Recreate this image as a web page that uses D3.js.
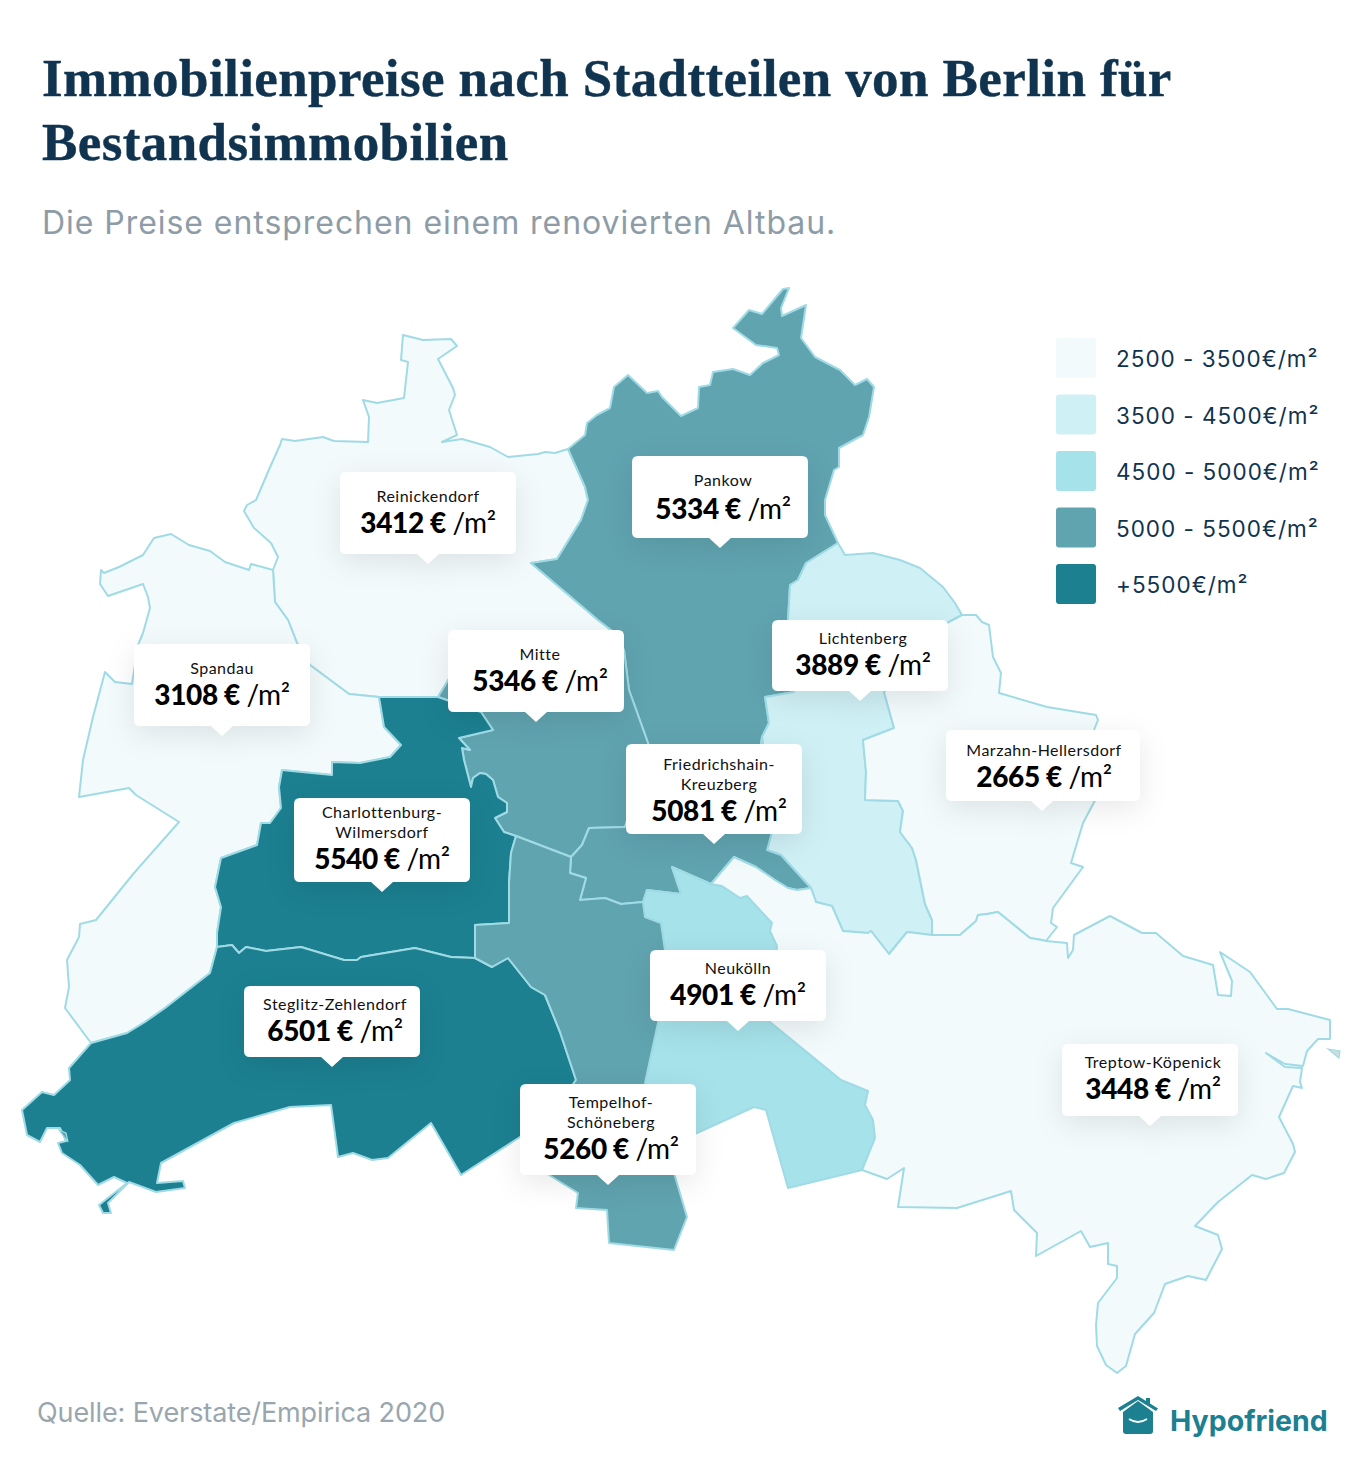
<!DOCTYPE html>
<html>
<head>
<meta charset="utf-8">
<script src="https://cdn.jsdelivr.net/npm/d3@7"></script>
<style>
  html, body { margin: 0; padding: 0; background: #fff; }
  svg { display: block; }
  .title { font-family: "Liberation Serif", serif; font-weight: 700; font-size: 53px; fill: #10344f; letter-spacing: .4px; stroke: #10344f; stroke-width: .4px; }
  .sub { font-family: Inter, sans-serif; font-size: 32px; fill: #8d9ca6; letter-spacing: .95px; }
  .source { font-family: Inter, sans-serif; font-size: 27px; fill: #9aa6ae; letter-spacing: -.1px; }
  .legend-text { font-family: Inter, sans-serif; font-size: 22.5px; fill: #10344f; letter-spacing: 1px; }
  .name { font-family: Lato, sans-serif; font-size: 16px; fill: #111; letter-spacing: .5px; text-anchor: middle; }
  .value { font-family: Lato, sans-serif; font-size: 28px; fill: #000; text-anchor: middle; letter-spacing: -.4px; }
  .value .num { font-weight: 900; }
  .value .unit { font-weight: 400; }
  .brand { font-family: Inter, sans-serif; font-weight: 700; font-size: 28.5px; fill: #1c8091; }
</style>
</head>
<body>
<div id="chart"></div>
<script>
// price classes
var classBreaks = [3500, 4500, 5000, 5500],
    classColors = ["#f2fafc", "#cff0f5", "#a6e2ea", "#60a4b0", "#1c8091"],
    legendLabels = ["2500 - 3500€/m²", "3500 - 4500€/m²", "4500 - 5000€/m²", "5000 - 5500€/m²", "+5500€/m²"];

var districts = ["Reinickendorf", "Pankow", "Mitte", "Spandau", "Lichtenberg", "Marzahn-Hellersdorf", "Friedrichshain-Kreuzberg", "Charlottenburg-Wilmersdorf", "Steglitz-Zehlendorf", "Neukölln", "Tempelhof-Schöneberg", "Treptow-Köpenick"];
var prices = [3412, 5334, 5346, 3108, 3889, 2665, 5081, 5540, 6501, 4901, 5260, 3448];

// shared borders in map units
var reinickNorth = [[568,449],[555,453],[545,452],[538,454],[508,457],[490,447],[462,439],[442,442],[457,435],[449,410],[455,395],[453,388],[438,359],[457,346],[451,339],[423,340],[403,335],[401,360],[408,362],[404,398],[377,403],[363,400],[369,417],[368,442],[334,441],[323,437],[295,441],[282,439],[280,445],[271,465],[256,500],[247,505],[244,511],[254,528],[271,543],[278,557],[273,570]];
var reinickSpandau = [[273,570],[275,602],[288,620],[297,643],[310,665],[349,694],[379,697]];
var reinickChar = [[379,697],[438,697]];
var reinickMitte = [[438,697],[447,682],[460,660],[560,650],[611,630]];
var reinickPankow = [[611,630],[598,620],[531,563],[557,559],[581,520],[588,500],[585,487],[568,449]];

var pankowNorth = [[568,449],[585,435],[587,423],[597,415],[610,408],[614,387],[628,375],[647,393],[658,391],[662,397],[681,416],[698,408],[699,387],[710,385],[713,372],[733,369],[750,375],[763,363],[779,355],[777,348],[756,345],[733,328],[749,310],[762,314],[783,289],[789,288],[781,308],[782,316],[806,305],[801,338],[815,357],[840,370],[855,385],[867,379],[874,387],[869,417],[863,435],[839,448],[839,467],[834,470],[825,500],[825,515],[838,543]];
var pankowLicht = [[838,543],[806,563],[798,580],[790,585],[788,620],[792,660],[794,692],[765,697],[769,723],[762,737]];
var pankowFK = [[762,737],[760,750],[650,750]];
var pankowMitte = [[650,750],[648,743],[629,690],[624,650],[611,630]];

var mitteFK = [[650,750],[625,827],[589,828],[582,845],[571,857]];
var mitteTemp = [[571,857],[516,836]];
var mitteChar = [[516,836],[504,832],[495,818],[507,812],[507,803],[498,797],[493,780],[486,774],[480,773],[473,778],[471,787],[464,760],[462,748],[470,750],[459,738],[493,730],[481,712],[438,697]];

var spandauOuter = [[273,570],[251,564],[249,570],[225,562],[210,551],[189,545],[171,534],[154,538],[143,555],[119,567],[104,573],[101,570],[100,584],[108,596],[143,584],[148,597],[150,608],[143,633],[138,645],[132,684],[115,682],[105,672],[93,717],[83,760],[79,797],[129,788],[136,795],[179,822],[134,873],[96,920],[80,924],[79,937],[67,960],[69,987],[65,1008],[91,1043]];
var spandauSteglitz = [[91,1043],[127,1033],[145,1022],[165,1008],[210,973],[217,947]];
var spandauChar = [[217,947],[217,933],[221,907],[215,887],[221,858],[257,845],[261,823],[270,823],[281,808],[279,787],[282,770],[332,775],[332,762],[360,763],[390,757],[401,745],[384,727],[379,697]];

var charSteglitz = [[217,947],[232,945],[239,953],[246,947],[266,951],[301,947],[344,960],[357,960],[361,957],[415,948],[451,957],[475,958]];
var charTemp = [[475,958],[475,925],[509,923],[509,883],[511,853],[516,836]];

var steglitzTemp = [[475,958],[492,967],[508,958],[531,987],[545,995],[560,1032],[576,1080],[545,1125]];
var steglitzOuter = [[545,1125],[520,1137],[461,1175],[431,1123],[388,1158],[372,1160],[353,1153],[338,1157],[331,1105],[290,1107],[234,1123],[161,1163],[157,1183],[183,1181],[185,1188],[156,1192],[129,1182],[108,1203],[111,1213],[103,1213],[99,1205],[127,1183],[114,1177],[98,1185],[80,1165],[62,1153],[58,1143],[66,1141],[60,1128],[47,1128],[40,1142],[27,1135],[22,1110],[42,1092],[54,1095],[70,1080],[69,1068],[91,1043]];

var fkTemp = [[571,857],[570,873],[586,878],[580,900],[605,898],[621,904],[643,902]];
var fkNeukoelln = [[643,902],[647,890],[681,894],[672,867],[711,884]];
var fkTreptow = [[711,884],[734,857],[756,867],[775,880],[788,888],[797,890],[811,888]];
var fkLicht = [[811,888],[781,855],[767,850],[772,832],[762,737]];

var tempNeukoelln = [[643,902],[645,917],[661,923],[665,950],[658,1023],[645,1083],[672,1142]];
var tempOuter = [[672,1142],[674,1173],[687,1217],[674,1250],[609,1243],[607,1210],[576,1208],[578,1193],[549,1175],[545,1125]];

var neukoellnTreptow = [[711,884],[722,886],[740,898],[747,896],[772,923],[770,931],[777,946],[770,1022],[841,1080],[868,1091],[865,1105],[873,1120],[875,1138],[862,1170]];
var neukoellnOuter = [[862,1170],[788,1188],[766,1110],[754,1107],[697,1133],[672,1142]];

var lichtTreptow = [[811,888],[816,902],[832,906],[843,931],[868,933],[871,931],[889,954],[907,932],[932,935]];
var lichtMarzahn = [[932,935],[932,920],[925,904],[916,860],[912,848],[900,832],[903,811],[898,801],[865,800],[866,772],[863,740],[894,728],[884,692],[947,623],[962,615]];
var lichtNorth = [[962,615],[955,603],[943,587],[920,568],[900,560],[873,553],[845,555],[838,543]];

var marzahnOuter = [[962,615],[976,615],[982,622],[989,625],[993,657],[1001,673],[999,693],[1047,707],[1096,715],[1098,720],[1094,730],[1099,793],[1083,823],[1071,863],[1083,867],[1053,908],[1051,923],[1057,927],[1046,941]];
var marzahnTreptow = [[1046,941],[1042,940],[1030,938],[998,912],[987,914],[978,915],[976,921],[960,935],[932,935]];

var treptowOuter = [[1046,941],[1067,943],[1068,958],[1073,950],[1074,935],[1110,916],[1142,933],[1156,933],[1183,956],[1213,965],[1218,995],[1231,996],[1232,981],[1220,952],[1250,972],[1277,1009],[1288,1009],[1330,1020],[1330,1039],[1318,1039],[1307,1051],[1303,1066],[1285,1064],[1266,1053],[1285,1067],[1302,1068],[1300,1082],[1302,1088],[1293,1086],[1279,1117],[1293,1144],[1295,1152],[1284,1173],[1266,1179],[1252,1175],[1218,1202],[1195,1226],[1218,1235],[1222,1249],[1206,1280],[1188,1276],[1165,1284],[1154,1313],[1135,1334],[1126,1366],[1117,1373],[1106,1365],[1097,1346],[1096,1325],[1098,1303],[1117,1278],[1117,1266],[1108,1264],[1108,1243],[1090,1247],[1081,1231],[1036,1256],[1037,1233],[1014,1210],[1011,1191],[957,1208],[898,1207],[904,1168],[887,1179],[862,1170]];

function rev(a) { return a.slice().reverse(); }
function ring() { return [].concat.apply([], arguments); }

var outlines = {
    "Reinickendorf": ring(reinickNorth, reinickSpandau, reinickChar, reinickMitte, reinickPankow),
    "Pankow": ring(pankowNorth, pankowLicht, pankowFK, pankowMitte, reinickPankow),
    "Mitte": ring(reinickMitte, rev(pankowMitte), mitteFK, mitteTemp, mitteChar),
    "Spandau": ring(spandauOuter, spandauSteglitz, spandauChar, rev(reinickSpandau)),
    "Lichtenberg": ring(rev(lichtNorth), rev(lichtMarzahn), rev(lichtTreptow), fkLicht, rev(pankowLicht)),
    "Marzahn-Hellersdorf": ring(marzahnOuter, marzahnTreptow, lichtMarzahn),
    "Friedrichshain-Kreuzberg": ring(mitteFK, fkTemp, fkNeukoelln, fkTreptow, fkLicht, pankowFK),
    "Charlottenburg-Wilmersdorf": ring(rev(spandauChar), charSteglitz, charTemp, mitteChar, rev(reinickChar)),
    "Steglitz-Zehlendorf": ring(rev(charSteglitz), rev(spandauSteglitz), rev(steglitzOuter), rev(steglitzTemp)),
    "Neukölln": ring(rev(fkNeukoelln), tempNeukoelln, rev(neukoellnOuter), rev(neukoellnTreptow)),
    "Tempelhof-Schöneberg": ring(rev(mitteTemp), fkTemp, tempNeukoelln, tempOuter, rev(steglitzTemp), charTemp),
    "Treptow-Köpenick": ring(rev(fkTreptow), neukoellnTreptow, rev(treptowOuter), marzahnTreptow, rev(lichtTreptow))
};

// little pieces that are not part of a district
var wannseePatch = [[59,1130],[66,1133],[68,1142],[60,1144]];
var exclavePatch = [[1328,1049],[1340,1051],[1339,1058],[1328,1056]];

// callout layout: [left, top, width, height, pointer x, text x, name baselines, value baseline]
var callouts = [
    [340, 472, 176, 82, 428, 428, [502], 533],
    [632, 456, 176, 82, 720, 723, [486], 519],
    [448, 630, 176, 82, 536, 540, [660], 691],
    [134, 644, 176, 82, 222, 222, [674], 705],
    [772, 620, 176, 71, 860, 863, [644], 675],
    [946, 730, 194, 71, 1042, 1044, [756], 787],
    [626, 744, 176, 90, 714, 719, [770, 790], 821],
    [294, 798, 176, 84, 382, 382, [818, 838], 869],
    [244, 986, 176, 71, 332, 335, [1010], 1041],
    [650, 950, 176, 71, 738, 738, [974], 1005],
    [520, 1084, 176, 91, 608, 611, [1108, 1128], 1159],
    [1062, 1044, 176, 72, 1150, 1153, [1068], 1099]
];
var nameLines = {
    "Friedrichshain-Kreuzberg": ["Friedrichshain-", "Kreuzberg"],
    "Charlottenburg-Wilmersdorf": ["Charlottenburg-", "Wilmersdorf"],
    "Tempelhof-Schöneberg": ["Tempelhof-", "Schöneberg"]
};

var width = 1356, height = 1464;

var svg = d3.select("#chart").append("svg")
    .attr("width", width)
    .attr("height", height);

svg.append("text").attr("class", "title").attr("x", 42).attr("y", 96).text("Immobilienpreise nach Stadtteilen von Berlin für");
svg.append("text").attr("class", "title").attr("x", 42).attr("y", 160).text("Bestandsimmobilien");
svg.append("text").attr("class", "sub").attr("x", 42).attr("y", 234).text("Die Preise entsprechen einem renovierten Altbau.");
svg.append("text").attr("class", "source").attr("x", 37).attr("y", 1422).text("Quelle: Everstate/Empirica 2020");

var color = d3.scaleThreshold().domain(classBreaks).range(classColors);

var path = d3.geoPath(d3.geoIdentity());

var features = districts.map(function(name, i) {
    return {
        type: "Feature",
        properties: { name: name, price: prices[i] },
        geometry: { type: "Polygon", coordinates: [outlines[name]] }
    };
});

var map = svg.append("g");

map.selectAll(".district")
    .data(features)
    .enter().append("path")
        .attr("class", "district")
        .attr("d", path)
        .style("fill", function(d) { return color(d.properties.price); })
        .style("stroke", "#a0dbe5")
        .style("stroke-width", 2)
        .style("stroke-linejoin", "round");

map.selectAll(".patch")
    .data([[wannseePatch, "#60a4b0"], [exclavePatch, "#cfdcde"]])
    .enter().append("path")
        .attr("class", "patch")
        .attr("d", function(d) { return path({ type: "Polygon", coordinates: [d[0]] }); })
        .style("fill", function(d) { return d[1]; })
        .style("stroke", "#a0dbe5")
        .style("stroke-width", 1.2);

// legend
var legendY = d3.scalePoint().domain(legendLabels).range([338, 564]);

var legend = svg.selectAll(".legend")
    .data(legendLabels)
    .enter().append("g")
        .attr("class", "legend")
        .attr("transform", function(d) { return "translate(1056," + legendY(d) + ")"; });

legend.append("rect")
    .attr("width", 40).attr("height", 40).attr("rx", 3)
    .style("fill", function(d, i) { return classColors[i]; });

legend.append("text")
    .attr("class", "legend-text")
    .attr("x", 60).attr("y", 29)
    .text(function(d) { return d; });

// callouts
var tips = svg.selectAll(".tip")
    .data(features)
    .enter().append("g")
        .attr("class", "tip");

tips.append("path")
    .attr("d", function(d, i) {
        var c = callouts[i], l = c[0], t = c[1], w = c[2], h = c[3], p = c[4], r = 6;
        return "M" + (l + r) + "," + t + "H" + (l + w - r) + "Q" + (l + w) + "," + t + " " + (l + w) + "," + (t + r) +
            "V" + (t + h - r) + "Q" + (l + w) + "," + (t + h) + " " + (l + w - r) + "," + (t + h) +
            "H" + (p + 11) + "L" + p + "," + (t + h + 10) + "L" + (p - 11) + "," + (t + h) +
            "H" + (l + r) + "Q" + l + "," + (t + h) + " " + l + "," + (t + h - r) +
            "V" + (t + r) + "Q" + l + "," + t + " " + (l + r) + "," + t + "Z";
    })
    .style("fill", "#fff")
    .style("filter", "drop-shadow(0 8px 14px rgba(0,0,0,0.09))");

tips.each(function(d, i) {
    var c = callouts[i], g = d3.select(this),
        lines = nameLines[d.properties.name] || [d.properties.name];

    lines.forEach(function(line, j) {
        g.append("text").attr("class", "name").attr("x", c[5]).attr("y", c[6][j]).text(line);
    });

    var value = g.append("text").attr("class", "value").attr("x", c[5]).attr("y", c[7]);
    value.append("tspan").attr("class", "num").text(d.properties.price + " €");
    value.append("tspan").attr("class", "unit").text(" /m²");
});

// logo
var logo = svg.append("g").style("fill", "#1c8091");
logo.append("path").attr("d", "M1123,1412L1138,1401L1153,1412V1431Q1153,1434 1150,1434H1126Q1123,1434 1123,1431Z");
logo.append("path").attr("d", "M1118,1408L1138,1396L1146,1401V1398H1150V1403.5L1158,1408.5L1156,1411L1138,1400L1120,1411Z");
logo.append("path").attr("d", "M1129,1419Q1138,1425 1147,1419").style("fill", "none").style("stroke", "#fff").style("stroke-width", 1.8);
svg.append("text").attr("class", "brand").attr("x", 1170).attr("y", 1431).text("Hypofriend");
</script>
</body>
</html>
